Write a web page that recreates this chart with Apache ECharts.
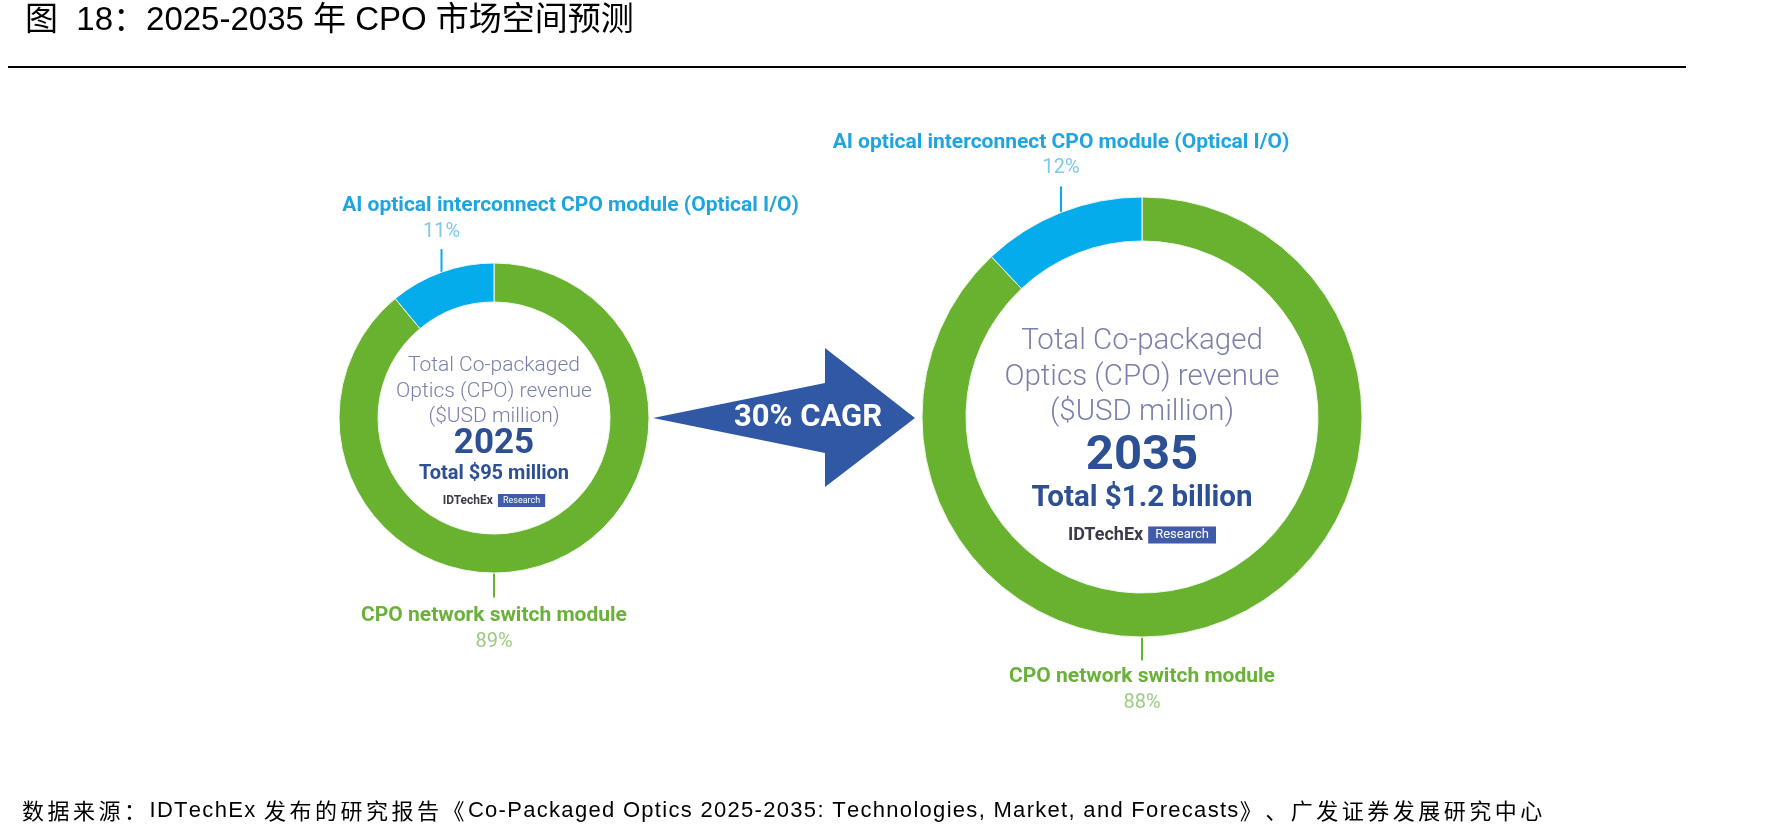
<!DOCTYPE html>
<html>
<head>
<meta charset="utf-8">
<script src="https://cdn.jsdelivr.net/npm/echarts@6/dist/echarts.min.js"></script>
<style>
  html, body { margin: 0; padding: 0; background: #fff; }
  #chart { width: 1790px; height: 838px; }
</style>
</head>
<body>
<div id="chart"></div>
<script>
// 数据
const segNames = ['CPO network switch module', 'AI optical interconnect CPO module (Optical I/O)']
const share2025 = [89, 11]
const share2035 = [88, 12]
const years = ['2025', '2035']
const totals = ['Total $95 million', 'Total $1.2 billion']
const centerLines = ['Total Co-packaged', 'Optics (CPO) revenue', '($USD million)']
const cagrText = '30% CAGR'
const titleText = '图  18：2025-2035 年 CPO 市场空间预测'
const sourceText = '数据来源：IDTechEx 发布的研究报告《Co-Packaged Optics 2025-2035: Technologies, Market, and Forecasts》、广发证券发展研究中心'

const GREEN = '#68b22f'
const BLUE = '#05aceb'
const NAVY = '#2d4f93'
const CN_FONT = '"Liberation Sans", Arial, "Noto Sans CJK SC", sans-serif'

const chart = echarts.init(document.getElementById('chart'))

// 原图脚注是两端对齐的，字距稍宽：逐字拆成 rich 片段加右侧 padding
const spaced = (str) => Array.from(str).map(ch =>
  /[\u3000-\u303f\u4e00-\u9fff\uff00-\uffef]/.test(ch) ? '{c|' + ch + '}' : '{l|' + ch + '}'
).join('')

// 标签：蓝色在上方、绿色在下方，引导线竖直
const makeLayout = (cfg) => (p) => {
  if (p.dataIndex === 1) {
    const pts = p.labelLinePoints
    const x0 = pts ? pts[0][0] : p.rect.x + p.rect.width / 2
    const y0 = pts ? pts[0][1] : p.rect.y
    return {
      x: x0,
      y: y0 - cfg.len - cfg.gap,
      align: 'center',
      verticalAlign: 'bottom',
      labelLinePoints: [[x0, y0], [x0, y0 - cfg.len]]
    }
  }
  const cx = p.rect.x + p.rect.width / 2
  const yb = p.rect.y + p.rect.height
  return {
    x: cx,
    y: yb + cfg.lenB + cfg.gapB,
    align: 'center',
    verticalAlign: 'top',
    labelLinePoints: [[cx, yb], [cx, yb + cfg.lenB]]
  }
}

const nameStyle = (color, shift) => ({
  fontFamily: 'Roboto', fontSize: 21, fontWeight: 'bold', color: color, lineHeight: 26,
  padding: [0, 0, 0, shift * 2]
})
const pctStyle = (color) => ({ fontFamily: 'Roboto', fontSize: 20, color: color, lineHeight: 26 })

const makePie = (values, center, radius, cfg) => ({
  type: 'pie',
  center: center,
  radius: radius,
  startAngle: 90,
  clockwise: true,
  silent: true,
  avoidLabelOverlap: false,
  emphasis: { disabled: true },
  itemStyle: { borderColor: '#f2f8ee', borderWidth: 1 },
  label: {
    show: true,
    position: 'outside',
    formatter: (d) => d.dataIndex === 1
      ? '{nb|' + d.name + '}\n{pb|' + d.value + '%}'
      : '{ng|' + d.name + '}\n{pg|' + d.value + '%}',
    rich: {
      nb: nameStyle('#1ea5df', cfg.shift),
      pb: pctStyle('#7dc8ec'),
      ng: nameStyle('#6ab13a', 0),
      pg: pctStyle('#9dcb80')
    }
  },
  labelLine: { show: true, length: 10, length2: 0, lineStyle: { width: 2 } },
  labelLayout: makeLayout(cfg),
  data: values.map((v, i) => ({
    name: segNames[i],
    value: v,
    itemStyle: { color: i === 1 ? BLUE : GREEN }
  }))
})

const centerText = (i) => centerLines.map(s => '{a|' + s + '}').join('\n') +
  '\n{y|' + years[i] + '}\n{t|' + totals[i] + '}\n{id|IDTechEx} {rs|Research}'

const centerRich = (s) => ({
  a: { fontFamily: 'Roboto', fontWeight: 300, fontSize: s.a, color: '#7a80aa', lineHeight: s.aL },
  y: { fontFamily: 'Roboto', fontWeight: 'bold', fontSize: s.y, color: NAVY, lineHeight: s.yL },
  t: { fontFamily: 'Roboto', fontWeight: 'bold', fontSize: s.t, color: NAVY, lineHeight: s.tL },
  id: { fontFamily: 'Roboto', fontWeight: 'bold', fontSize: s.id, color: '#3b3b4a', lineHeight: s.idL },
  rs: { fontFamily: 'Roboto', fontWeight: 'normal', fontSize: s.rs, color: '#ffffff', backgroundColor: '#3f5ba9', padding: s.rsPad, lineHeight: s.idL }
})

const option = {
  animation: false,
  backgroundColor: '#fff',
  title: [
    {
      text: titleText, left: 25, top: 4, padding: 0,
      textStyle: { fontFamily: CN_FONT, fontSize: 33, fontWeight: 'normal', color: '#000' }
    },
    {
      text: spaced(sourceText), left: 22, top: 800, padding: 0,
      textStyle: {
        fontWeight: 'normal',
        rich: {
          c: { fontFamily: '"Noto Sans CJK SC"', fontWeight: 'normal', fontSize: 22, color: '#000', padding: [0, 3.5, 0, 0] },
          l: { fontFamily: '"Liberation Sans", Arial', fontWeight: 'normal', fontSize: 22, color: '#000', padding: [0, 1.3, 0, 0] }
        }
      }
    },
    {
      text: centerText(0), left: 494, top: 353, padding: 0, textAlign: 'center',
      textStyle: {
        rich: centerRich({ a: 21, aL: 25.5, y: 35, yL: 30, t: 20, tL: 28, id: 12, idL: 26, rs: 9, rsPad: [2, 5] })
      }
    },
    {
      text: centerText(1), left: 1142, top: 324, padding: 0, textAlign: 'center',
      textStyle: {
        rich: centerRich({ a: 29.5, aL: 35.5, y: 49, yL: 53, t: 29.5, tL: 31, id: 18, idL: 41, rs: 13, rsPad: [2, 7] })
      }
    }
  ],
  graphic: [
    {
      type: 'line', silent: true,
      shape: { x1: 8, y1: 67, x2: 1686, y2: 67 },
      style: { stroke: '#000', lineWidth: 2 }
    },
    {
      type: 'polygon', silent: true,
      shape: { points: [[653, 418], [825, 383], [825, 348], [915, 418], [825, 487], [825, 453]] },
      style: { fill: '#3158a5' }
    },
    {
      type: 'text', silent: true, x: 808, y: 418,
      style: {
        text: cagrText, fill: '#fff', font: 'bold 31px Roboto',
        align: 'center', verticalAlign: 'middle'
      }
    }
  ],
  series: [
    makePie(share2025, [494, 418], [116, 155], { shift: 129, len: 23, gap: 4, lenB: 24, gapB: 5 }),
    makePie(share2035, [1142, 417], [176, 220], { shift: 0, len: 26, gap: 5, lenB: 23, gapB: 3 })
  ]
}

chart.setOption(option)
</script>
</body>
</html>
